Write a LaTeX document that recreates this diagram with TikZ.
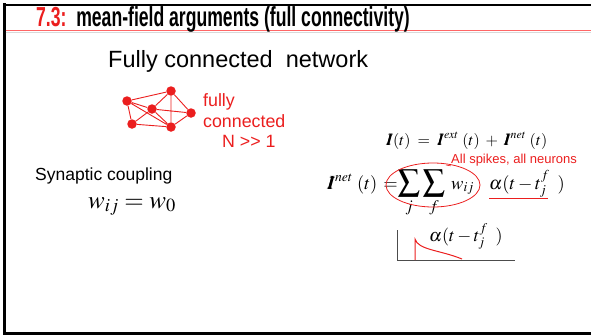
\documentclass[tikz,border=0pt]{standalone}
\usepackage{mathptmx}
\usepackage{bm}
\usepackage[no-math]{fontspec}
\setmainfont{Liberation Sans}
\usetikzlibrary{calc}
\definecolor{sred}{RGB}{235,30,30}
\begin{document}
\begin{tikzpicture}[x=1pt,y=-1pt,
  dot/.style={circle,fill=sred,inner sep=0pt,minimum size=9.5pt},
  edge/.style={draw=sred,line width=0.9pt},
  redtxt/.style={text=sred,font=\fontsize{17.8}{20}\selectfont,inner sep=0pt,anchor=base west},
  blk/.style={inner sep=0pt,anchor=base west},
  bigsum/.style={inner sep=0pt,anchor=base,font=\fontsize{22}{24}\selectfont}]
\useasboundingbox (0,0) rectangle (591,335);
% frame
\draw[line width=3pt] (4.5,3) -- (4.5,333.5) -- (591,333.5);
\draw[line width=2pt] (4.5,4.5) -- (591,4.5);
\draw[line width=1.6pt,color=red!60!white] (5.5,30.5) -- (591,30.5);
\draw[line width=0.8pt,color=black!15] (5.5,32) -- (591,32);
% title
\node[blk] (title) at (36,26) {\scalebox{0.8}[1.25]{\fontsize{22}{22}\selectfont\bfseries\textcolor{sred}{7.3:}\ \ mean-field arguments (full connectivity)}};
% heading
\node[blk,font=\fontsize{23.5}{26}\selectfont] (head) at (108,67) {Fully connected\ \ network};
% network
\node[dot] (n1) at (127,101) {};
\node[dot] (n2) at (171,91) {};
\node[dot] (n3) at (152,109) {};
\node[dot] (n4) at (191,113) {};
\node[dot] (n5) at (132,124) {};
\node[dot] (n6) at (171,127) {};
\draw[edge] (n1) -- (n2) (n1) -- (n3) (n1) -- (n5) (n1) -- (n6)
  (n2) -- (n3) (n2) -- (n4) (n2) -- (n6) (n3) -- (n4) (n3) -- (n5)
  (n3) -- (n6) (n4) -- (n6) (n5) -- (n6);
\node[redtxt] (f1) at (203,106) {fully};
\node[redtxt] (f2) at (203,127) {connected};
\node[redtxt] (f3) at (222,147) {N >{}> 1};
% synaptic
\node[blk,font=\fontsize{17.5}{20}\selectfont] (syn) at (35,180) {Synaptic coupling};
\node[blk,font=\fontsize{25}{27}\selectfont] (wij) at (88,208) {$w_{ij}=w_0$};
% I(t) equation
\node[blk,font=\fontsize{16}{18}\selectfont] (eq1) at (386,145) {$\bm{I}(t)\;=\;\bm{I}^{ext}\;(t)\;+\;\bm{I}^{net}\;(t)$};
\node[redtxt,font=\fontsize{13}{15}\selectfont] (allsp) at (451,163) {All spikes, all neurons};
\node[blk,font=\fontsize{18.5}{22}\selectfont] (eqa) at (327,189) {$\bm{I}^{net}\;(t)\,=$};
\node[bigsum] (s1) at (409,189) {$\displaystyle\sum_j$};
\node[bigsum] (s2) at (434,189) {$\displaystyle\sum_f$};
\node[blk,font=\fontsize{18.5}{22}\selectfont] (wsub) at (451,189) {$w_{ij}$};
\node[blk,font=\fontsize{18.5}{22}\selectfont] (eqb) at (489,189) {$\alpha(t-t_j^f\;\;)$};
\draw[sred,line width=0.8pt] (433,185) ellipse [x radius=47, y radius=22];
\coordinate (etop) at (446,165);
\draw[sred,line width=0.6pt] (etop) -- (allsp.south west);
\coordinate (ul1) at (489,198);
\coordinate (ul2) at (548,198);
\draw[sred,line width=0.8pt] (ul1) -- (ul2);
% kernel plot
\coordinate (o) at (397,260);
\coordinate (yt) at (397,230);
\coordinate (xt) at (515,260);
\draw[black!70,line width=0.5pt] (yt) -- (o) -- (xt);
\coordinate (k0) at (415,260);
\coordinate (k1) at (415,239);
\coordinate (k2) at (462,259);
\draw[sred,line width=1pt] (k0) -- (k1) .. controls (418,250) and (440,250) .. (k2);
\node[blk,font=\fontsize{18}{20}\selectfont] (alph) at (429,241) {$\alpha(t-t_j^f\;\;)$};
\end{tikzpicture}
\end{document}
